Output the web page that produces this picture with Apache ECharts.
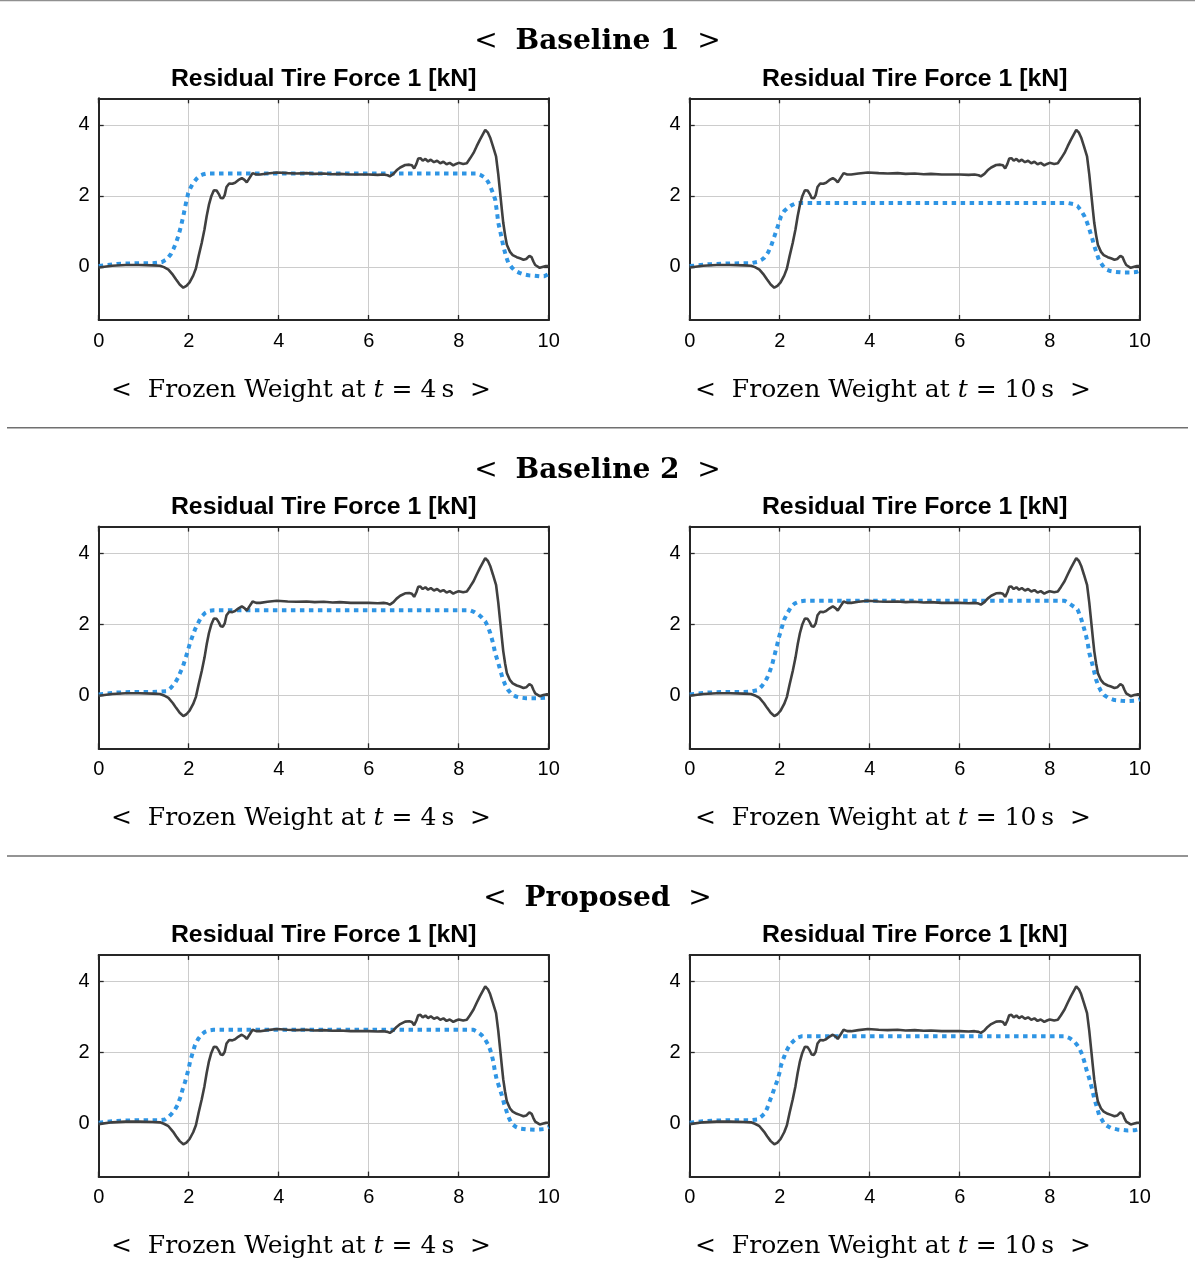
<!DOCTYPE html>
<html><head><meta charset="utf-8">
<script src="https://cdn.jsdelivr.net/npm/echarts@6/dist/echarts.min.js"></script>
<style>html,body{margin:0;padding:0;background:#fff}#c{width:1195px;height:1281px}</style>
</head><body><div id="c"></div>
<script>
// ---------- data ----------
const xTicks = [0, 2, 4, 6, 8, 10];
const yTicks = [0, 2, 4];
const sectionTitles = ['Baseline 1', 'Baseline 2', 'Proposed'];
const panelTitle = 'Residual Tire Force 1 [kN]';
const frozenTimes = ['4', '10'];

// measured residual tire force (same in every panel)
const measTime = [0,0.3,0.6,0.9,1.2,1.36,1.45,1.55,1.65,1.72,1.8,1.88,1.95,2.02,2.1,2.16,2.22,2.29,2.35,2.4,2.45,2.5,2.56,2.62,2.67,2.71,2.76,2.8,2.84,2.9,2.97,3.03,3.1,3.18,3.24,3.29,3.35,3.42,3.5,3.59,3.75,3.96,4.2,4.4,4.62,4.8,5.0,5.2,5.36,5.6,5.8,6.0,6.2,6.33,6.42,6.47,6.55,6.62,6.7,6.81,6.9,6.96,7.01,7.06,7.1,7.15,7.2,7.26,7.32,7.38,7.45,7.52,7.59,7.66,7.73,7.8,7.88,7.94,8.0,8.1,8.18,8.25,8.33,8.4,8.47,8.53,8.59,8.65,8.7,8.76,8.83,8.88,8.92,8.96,8.99,9.03,9.07,9.14,9.2,9.29,9.36,9.44,9.5,9.57,9.62,9.66,9.7,9.73,9.8,9.88,9.94,10];
const measForce = [-0.02,0.03,0.05,0.05,0.04,0.03,-0.01,-0.08,-0.23,-0.36,-0.5,-0.59,-0.54,-0.44,-0.25,-0.05,0.3,0.68,1.05,1.43,1.75,1.98,2.16,2.15,2.05,1.94,1.93,2.02,2.25,2.35,2.34,2.37,2.44,2.5,2.45,2.38,2.5,2.64,2.6,2.6,2.63,2.66,2.64,2.63,2.64,2.62,2.63,2.61,2.62,2.6,2.6,2.6,2.59,2.6,2.58,2.55,2.62,2.72,2.8,2.87,2.88,2.86,2.77,2.9,3.05,3.06,2.99,3.04,2.97,3.02,2.95,2.99,2.92,2.96,2.89,2.93,2.86,2.9,2.93,2.9,2.92,3.05,3.21,3.4,3.58,3.72,3.86,3.78,3.64,3.4,3.11,2.6,2.1,1.6,1.24,0.9,0.62,0.42,0.33,0.27,0.24,0.2,0.22,0.31,0.27,0.15,0.05,0.0,-0.03,0.0,0.02,0.02];

// estimated residual tire force, [time, value]
const estBaseline1At4 = [[0,0.02],[0.4,0.08],[0.8,0.1],[1.2,0.1],[1.4,0.13],[1.51,0.21],[1.6,0.35],[1.66,0.5],[1.72,0.68],[1.77,0.87],[1.83,1.15],[1.88,1.43],[1.94,1.8],[1.99,2.08],[2.05,2.25],[2.1,2.36],[2.18,2.49],[2.25,2.57],[2.33,2.61],[2.4,2.63],[8.4,2.63],[8.5,2.58],[8.59,2.5],[8.65,2.4],[8.7,2.27],[8.76,2.08],[8.81,1.9],[8.85,1.55],[8.88,1.24],[8.94,0.9],[8.99,0.59],[9.05,0.3],[9.1,0.12],[9.18,-0.02],[9.25,-0.11],[9.35,-0.17],[9.44,-0.21],[9.55,-0.24],[9.66,-0.25],[9.8,-0.27],[9.9,-0.27],[10,-0.2]];
const estBaseline1At10 = [[0,0.02],[0.4,0.07],[0.8,0.09],[1.2,0.1],[1.36,0.1],[1.51,0.14],[1.6,0.2],[1.66,0.26],[1.74,0.4],[1.81,0.59],[1.88,0.85],[1.96,1.15],[2.03,1.43],[2.1,1.57],[2.18,1.66],[2.27,1.74],[2.36,1.79],[2.45,1.8],[8.4,1.8],[8.52,1.77],[8.62,1.71],[8.7,1.58],[8.77,1.43],[8.83,1.25],[8.88,1.06],[8.94,0.82],[8.99,0.59],[9.05,0.36],[9.1,0.17],[9.18,0.03],[9.25,-0.07],[9.35,-0.12],[9.44,-0.14],[9.6,-0.16],[9.81,-0.16],[9.92,-0.15],[10,-0.11]];
const estBaseline2At4 = [[0,0.02],[0.4,0.07],[0.8,0.09],[1.2,0.09],[1.36,0.1],[1.51,0.11],[1.6,0.2],[1.7,0.35],[1.76,0.48],[1.81,0.63],[1.87,0.8],[1.92,1.0],[1.98,1.25],[2.03,1.47],[2.09,1.68],[2.14,1.85],[2.22,2.06],[2.29,2.22],[2.36,2.31],[2.44,2.37],[2.55,2.39],[8.25,2.39],[8.35,2.34],[8.44,2.27],[8.52,2.18],[8.59,2.08],[8.65,1.93],[8.7,1.75],[8.76,1.48],[8.81,1.19],[8.87,0.94],[8.92,0.72],[8.97,0.5],[9.03,0.3],[9.1,0.14],[9.18,0.02],[9.27,-0.04],[9.36,-0.07],[9.5,-0.09],[9.73,-0.09],[10,-0.07]];
const estBaseline2At10 = [[0,0.02],[0.4,0.07],[0.8,0.09],[1.2,0.09],[1.36,0.1],[1.51,0.14],[1.6,0.25],[1.66,0.35],[1.72,0.48],[1.77,0.63],[1.83,0.85],[1.88,1.1],[1.94,1.4],[1.99,1.66],[2.05,1.92],[2.1,2.13],[2.18,2.33],[2.25,2.48],[2.33,2.58],[2.44,2.64],[2.55,2.66],[8.33,2.66],[8.4,2.61],[8.47,2.55],[8.55,2.48],[8.62,2.41],[8.68,2.22],[8.73,2.03],[8.77,1.85],[8.81,1.66],[8.85,1.42],[8.88,1.19],[8.92,1.0],[8.96,0.81],[9.0,0.6],[9.03,0.44],[9.08,0.26],[9.14,0.11],[9.21,0.0],[9.29,-0.07],[9.44,-0.14],[9.6,-0.16],[9.73,-0.17],[9.9,-0.16],[10,-0.12]];
const estProposedAt4 = [[0,0.02],[0.4,0.07],[0.8,0.09],[1.2,0.09],[1.36,0.09],[1.47,0.11],[1.55,0.18],[1.62,0.27],[1.69,0.38],[1.75,0.51],[1.81,0.72],[1.87,0.98],[1.92,1.17],[1.96,1.36],[2.0,1.55],[2.03,1.74],[2.09,2.0],[2.14,2.21],[2.21,2.38],[2.29,2.51],[2.36,2.58],[2.44,2.62],[2.55,2.64],[8.33,2.64],[8.42,2.58],[8.51,2.49],[8.59,2.36],[8.66,2.21],[8.72,2.0],[8.77,1.74],[8.8,1.5],[8.84,1.26],[8.9,1.02],[8.96,0.79],[9.01,0.55],[9.07,0.32],[9.12,0.14],[9.18,-0.01],[9.27,-0.1],[9.36,-0.15],[9.5,-0.17],[9.73,-0.18],[9.9,-0.16],[10,-0.1]];
const estProposedAt10 = [[0,0.02],[0.4,0.07],[0.8,0.09],[1.2,0.09],[1.36,0.09],[1.51,0.11],[1.6,0.2],[1.66,0.27],[1.72,0.42],[1.77,0.6],[1.83,0.8],[1.88,0.98],[1.96,1.25],[2.0,1.45],[2.03,1.64],[2.09,1.85],[2.14,2.02],[2.2,2.16],[2.25,2.25],[2.33,2.35],[2.4,2.42],[2.5,2.46],[8.33,2.46],[8.45,2.4],[8.55,2.3],[8.61,2.21],[8.66,2.11],[8.72,1.95],[8.77,1.74],[8.82,1.5],[8.88,1.26],[8.94,0.98],[8.99,0.7],[9.05,0.45],[9.1,0.23],[9.16,0.1],[9.21,-0.01],[9.29,-0.08],[9.36,-0.13],[9.5,-0.17],[9.73,-0.2],[9.9,-0.19],[9.96,-0.17],[10,-0.14]];

const estimates = [estBaseline1At4, estBaseline1At10, estBaseline2At4, estBaseline2At10, estProposedAt4, estProposedAt10];

// ---------- layout ----------
const rowStep = 428.3;
const rowTop0 = 98.3, plotH = 221.7;
const colLeft = [98.7, 689.7], plotW = 450;
const subCenter = [301, 893];
const axisColor = '#262626';
const gridColor = '#cccccc';
const sans = '"Liberation Sans", Arial, sans-serif';
const serif = '"DejaVu Serif", "Liberation Serif", serif';

const measured = measTime.map((t, i) => [t, measForce[i]]);

const grids = [], xAxes = [], yAxes = [], series = [], graphics = [];
const lineAx = { show: true, onZero: false, lineStyle: { color: axisColor, width: 2 } };
const tickAx = (vals) => Object.assign({ show: true, inside: true, length: 5, lineStyle: { color: axisColor, width: 1.3 } }, vals ? { customValues: vals } : {});

for (let r = 0; r < 3; r++) {
  const top = rowTop0 + r * rowStep;
  graphics.push({
    type: 'text', x: 597.5, y: 42 + r * rowStep,
    style: { text: '<  {b|' + sectionTitles[r] + '}  >', font: '28px ' + serif, fill: '#000',
      textAlign: 'center', textVerticalAlign: 'middle',
      rich: { b: { fontFamily: serif, fontSize: 28, fontWeight: 'bold', fill: '#000' } } }
  });
  if (r > 0) {
    graphics.push({ type: 'line', shape: { x1: 7, y1: r * rowStep - 0.5, x2: 1188, y2: r * rowStep - 0.5 },
      style: { stroke: '#707070', lineWidth: 1.5 } });
  }
  for (let c = 0; c < 2; c++) {
    const g = r * 2 + c;
    grids.push({ left: colLeft[c], top: top, width: plotW, height: plotH, containLabel: false });
    xAxes.push({
      gridIndex: g, type: 'value', position: 'bottom', min: xTicks[0], max: xTicks[xTicks.length - 1], interval: 2,
      axisLine: lineAx, axisTick: tickAx(),
      axisLabel: { show: true, color: '#000', fontFamily: sans, fontSize: 20, margin: 11 },
      splitLine: { show: true, lineStyle: { color: gridColor, width: 1 } }
    });
    xAxes.push({
      gridIndex: g, type: 'value', position: 'top', min: xTicks[0], max: xTicks[xTicks.length - 1], interval: 2,
      axisLine: lineAx, axisTick: tickAx(),
      axisLabel: { show: false }, splitLine: { show: false }
    });
    yAxes.push({
      gridIndex: g, type: 'value', position: 'left', min: -1.5, max: 4.75,
      axisLine: lineAx, axisTick: tickAx(yTicks),
      axisLabel: { show: true, customValues: yTicks, color: '#000', fontFamily: sans, fontSize: 20, margin: 9 },
      splitLine: { show: true, lineStyle: { color: gridColor, width: 1 } }
    });
    yAxes.push({
      gridIndex: g, type: 'value', position: 'right', min: -1.5, max: 4.75,
      axisLine: lineAx, axisTick: tickAx(yTicks),
      axisLabel: { show: false }, splitLine: { show: false }
    });
    series.push({
      type: 'line', xAxisIndex: 2 * g, yAxisIndex: 2 * g, data: estimates[g], showSymbol: false, symbol: 'none',
      lineStyle: { color: '#2f95e4', width: 4, type: [4.5, 4.5], cap: 'butt' }, z: 3, silent: true
    });
    series.push({
      type: 'line', xAxisIndex: 2 * g, yAxisIndex: 2 * g, data: measured, showSymbol: false, symbol: 'none',
      lineStyle: { color: '#404040', width: 2.6 }, z: 4, silent: true
    });
    graphics.push({
      type: 'text', x: colLeft[c] + plotW / 2, y: 79 + r * rowStep,
      style: { text: panelTitle, font: 'bold 24.8px ' + sans, fill: '#000', textAlign: 'center', textVerticalAlign: 'middle' }
    });
    graphics.push({
      type: 'text', x: subCenter[c], y: 390 + r * rowStep,
      style: { text: '<  Frozen Weight at {it|t} = ' + frozenTimes[c] + '\u2009s  >', font: '25px ' + serif, fill: '#000',
        textAlign: 'center', textVerticalAlign: 'middle',
        rich: { it: { fontFamily: serif, fontSize: 25, fontStyle: 'italic', fill: '#000' } } }
    });
  }
}
graphics.push({ type: 'line', shape: { x1: 0, y1: 0.5, x2: 1195, y2: 0.5 }, style: { stroke: '#909090', lineWidth: 1.5 } });

const chart = echarts.init(document.getElementById('c'), null, { renderer: 'canvas' });
chart.setOption({
  animation: false,
  backgroundColor: '#fff',
  grid: grids, xAxis: xAxes, yAxis: yAxes, series: series,
  graphic: { elements: graphics }
});
</script></body></html>
